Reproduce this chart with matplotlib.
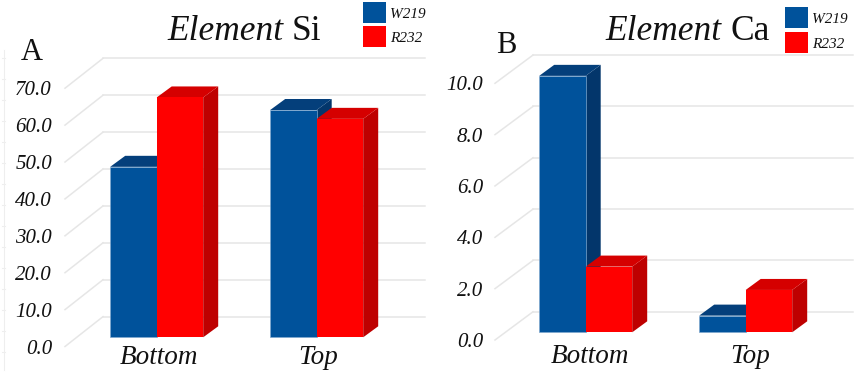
"""Two pseudo-3D bar panels: Si and Ca content for W219 and R232."""

import matplotlib
matplotlib.use("Agg")
import matplotlib.pyplot as plt
from matplotlib.lines import Line2D
from matplotlib.patches import Polygon, Rectangle
from matplotlib.transforms import Affine2D

WIDTH, HEIGHT = 858, 383

categories = ["Bottom", "Top"]
series_names = ["W219", "R232"]
si_w219 = [46.2, 61.6]
si_r232 = [65.0, 59.2]
ca_w219 = [9.99, 0.65]
ca_r232 = [2.56, 1.65]
si_ticks = [0, 10, 20, 30, 40, 50, 60, 70]
ca_ticks = [0, 2, 4, 6, 8, 10]

BLUE = ("#00529B", "#043F7B", "#03366B")
RED = ("#FF0000", "#D50000", "#BE0000")
GRID = "#E6E6E6"
SERIF = "Liberation Serif"

fig = plt.figure(figsize=(WIDTH / 100, HEIGHT / 100), dpi=100)
px = Affine2D().scale(1 / WIDTH, -1 / HEIGHT).translate(0, 1) + fig.transFigure


def draw_bar(ax, x, width, value, colors, dx, dy):
    """Front face plus top and side faces, depth given in data units."""
    x1 = x + width
    ax.add_patch(Polygon([(x1, 0), (x1 + dx, dy), (x1 + dx, value + dy), (x1, value)],
                         fc=colors[2], ec="none", zorder=3))
    ax.add_patch(Polygon([(x, value), (x1, value), (x1 + dx, value + dy), (x + dx, value + dy)],
                         fc=colors[1], ec="none", zorder=3))
    ax.add_patch(Rectangle((x, 0), width, value, fc=colors[0], ec="#7FA8CF" if colors is BLUE else "none",
                           lw=0.5, zorder=3))


def draw_panel(left, right, center, base, unit, wall, values, ticks, tick_right, tick_shift, cat_drop, cat_shift):
    """One panel. The axes spans the panel's pixels, so data units stay true to the scales."""
    ax = fig.add_axes([left / WIDTH, 0, (right - left) / WIDTH, 1])
    ax.set_xlim((left - center) / 160, (right - center) / 160)
    ax.set_ylim(-(HEIGHT - base) / unit, base / unit)
    ax.axis("off")

    # floor-to-wall diagonals and wall lines
    for tick in ticks:
        back = tick + wall
        front = tick - tick_shift
        ax.plot([(65 + left - center) / 160, (103 + left - center) / 160], [front, back],
                color=GRID, lw=1.1, zorder=1)
        ax.plot([(103 + left - center) / 160, (right - 5 - center) / 160], [back, back],
                color=GRID, lw=1.1, zorder=1)
        ax.text((tick_right + left - center) / 160, front - 2.5 / unit, f"{tick:.1f}", family=SERIF,
                style="italic", fontsize=15, ha="right", va="center", color="#111111", zorder=4)

    bar_w = 46.5 / 160
    dx, dy = 15 / 160, 11 / unit
    for i in range(len(categories)):
        draw_bar(ax, i - bar_w, bar_w, values[0][i], BLUE, dx, dy)
        draw_bar(ax, i, bar_w, values[1][i], RED, dx, dy)
        ax.text(i + cat_shift, -cat_drop / unit, categories[i], family=SERIF, style="italic",
                fontsize=19.5, ha="center", va="baseline", color="#111111")
    return ax


def label(x, y, text, size, style="normal", ha="left"):
    fig.text(x, y, text, transform=px, family=SERIF, style=style, fontsize=size,
             ha=ha, va="baseline", color="#111111")


draw_panel(0, 430, 156.7, 337.3, 3.69, 5.6, (si_w219, si_r232), si_ticks, 52, 2.5, 26.7, 0.012)
draw_panel(430, 858, 585.7, 332.3, 25.67, 0.8, (ca_w219, ca_r232), ca_ticks, 53, 0.3, 30.4, 0.028)

# faint leftover axis at the far left edge
fig.add_artist(Line2D([3.5, 3.5], [50, 370], color="#EEEEEE", lw=0.8, transform=px))
for y in range(58, 370, 21):
    fig.add_artist(Line2D([2, 5], [y, y], color="#EEEEEE", lw=0.8, transform=px))

# panel letters and titles
label(21, 60, "A", 22)
label(496, 53, "B", 22)
label(284, 40, "Element", 25.5, style="italic", ha="right")
label(292, 40, "Si", 25.5)
label(722, 40.5, "Element", 25.5, style="italic", ha="right")
label(730, 40.5, "Ca", 25.5)

# legend swatches
for sx, sy, sy2, tx in [(363, 2, 26, 390), (785, 7, 32, 812)]:
    fig.add_artist(Rectangle((sx, sy), 23, 20.5, fc=BLUE[0], ec="none", transform=px))
    fig.add_artist(Rectangle((sx, sy2), 23, 20.5, fc=RED[0], ec="none", transform=px))
    label(tx, sy + 16, series_names[0], 11, style="italic")
    label(tx, sy2 + 16, series_names[1], 11, style="italic")

fig.savefig("out.png", dpi=100)
plt.close(fig)
